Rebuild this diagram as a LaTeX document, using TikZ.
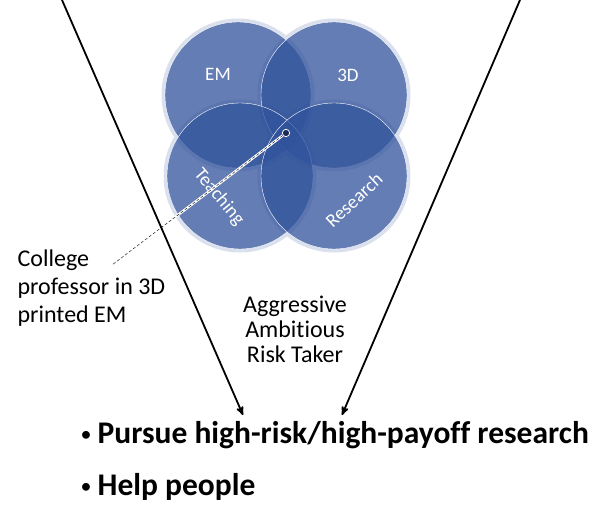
\documentclass[tikz,border=0pt]{standalone}
\usepackage{fontspec}
\setmainfont{Carlito}[Ligatures={NoCommon}]
\usetikzlibrary{arrows,positioning}
\definecolor{vennblue}{RGB}{48,82,155}
\definecolor{dotblue}{RGB}{28,42,88}

\begin{document}
\begin{tikzpicture}[
  x=1pt,y=-1pt,
  >=stealth',semithick
]
  \tikzstyle{venn}=[circle,draw=white,thin,fill=vennblue,fill opacity=0.75,minimum size=146pt,inner sep=0pt]
  \tikzstyle{glow}=[circle,draw=vennblue!18,line width=4pt,minimum size=149pt,inner sep=0pt]
  \tikzstyle{vlabel}=[text=white,font=\fontsize{19}{22}\selectfont]
  \tikzstyle{goal}=[anchor=base west,font=\fontsize{31.5}{36}\selectfont]
  \useasboundingbox (0,0) rectangle (592,505);

  % Circles (EM, 3D on top row; Teaching, Research below)
  \foreach \pos in {(238,95),(334,95),(240,176),(334,176)}
    \node[glow] at \pos {};
  \node[venn] (em)    at (238,95)  {};
  \node[venn] (td)    at (334,95)  {};
  \node[venn] (teach) at (240,176) {};
  \node[venn] (res)   at (334,176) {};

  % Circle labels
  \node[vlabel]            (emlab)    at (218,74)  {EM};
  \node[vlabel]            (tdlab)    at (348,75)  {3D};
  \node[vlabel,rotate=-50] (teachlab) at (219,197) {Teaching};
  \node[vlabel,rotate=43]  (reslab)   at (354,200) {Research};

  % Sweet spot and the note pointing at it
  \node[circle,fill=dotblue,draw=white,thick,inner sep=2.6pt] (dot) at (286,133) {};
  % (base of a multi-line node = last line)
  \node[align=left,anchor=base west,font=\fontsize{24}{27.5}\selectfont] (prof) at (14,322)
    {College\\professor in 3D\\printed EM};
  \coordinate (profend) at (112,265);
  \draw[white,line width=2.5pt] (dot) -- (profend);
  \draw[thin,dash pattern=on 3pt off 2pt] (dot) -- (profend);

  % Funnel
  \coordinate (ltop) at (62,0);
  \coordinate (ltip) at (243,415);
  \coordinate (rtop) at (520,0);
  \coordinate (rtip) at (342,415);
  \draw[->,line width=1.8pt] (ltop) -- (ltip);
  \draw[->,line width=1.8pt] (rtop) -- (rtip);

  \node[align=center,anchor=base,font=\fontsize{24}{25}\selectfont] (traits) at (295,362)
    {Aggressive\\Ambitious\\Risk Taker};

  % Goals
  \node[goal] (goal1) at (77,443)
    {\makebox[17pt][l]{\raisebox{1.5pt}{\fontsize{22}{22}\selectfont\textbullet}}\textbf{Pursue high-risk/high-payoff research}};
  \node[goal] (goal2) at (77,495)
    {\makebox[17pt][l]{\raisebox{1.5pt}{\fontsize{22}{22}\selectfont\textbullet}}\textbf{Help people}};
\end{tikzpicture}
\end{document}
